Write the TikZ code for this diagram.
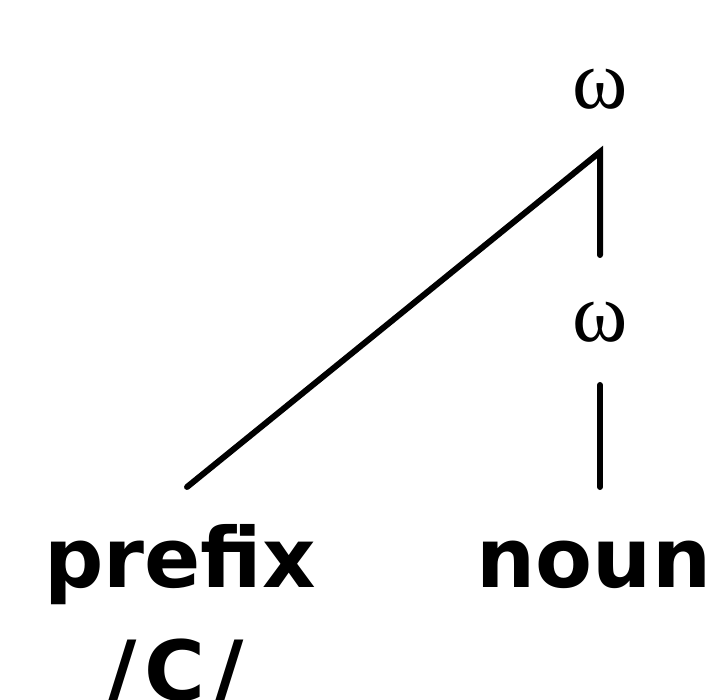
\documentclass[tikz,border=0pt]{standalone}
\usepackage{fontspec}
\setmainfont{DejaVu Sans}
\newfontfamily\omfont{Liberation Serif}
\begin{document}
\begin{tikzpicture}[x=1pt,y=-1pt,
  lab/.style={font=\fontsize{83}{83}\selectfont\bfseries, inner sep=0pt, anchor=base},
  om/.style={font=\omfont\fontsize{84}{84}\selectfont, inner sep=0pt, anchor=base},
  edge/.style={line width=6pt, line cap=round}]
\useasboundingbox (0,0) rectangle (720,700);
\clip (0,0) rectangle (720,700);
\node[om] (w1) at (600,109) {ω};
\node[om] (w2) at (600,342) {ω};
\node[lab] (prefix) at (180,587) {prefix};
\node[lab] (noun) at (594,587) {noun};
\node[lab] (c) at (175,700) {/\kern8pt C\kern8pt/};
\coordinate (apex) at (600,152);
\coordinate (w1foot) at (600,255);
\coordinate (w2top) at (600,385);
\coordinate (nountop) at (600,487);
\coordinate (prefixtop) at (187,487);
\draw[edge] (prefixtop) -- (apex) -- (w1foot);
\draw[edge] (w2top) -- (nountop);
\end{tikzpicture}
\end{document}
